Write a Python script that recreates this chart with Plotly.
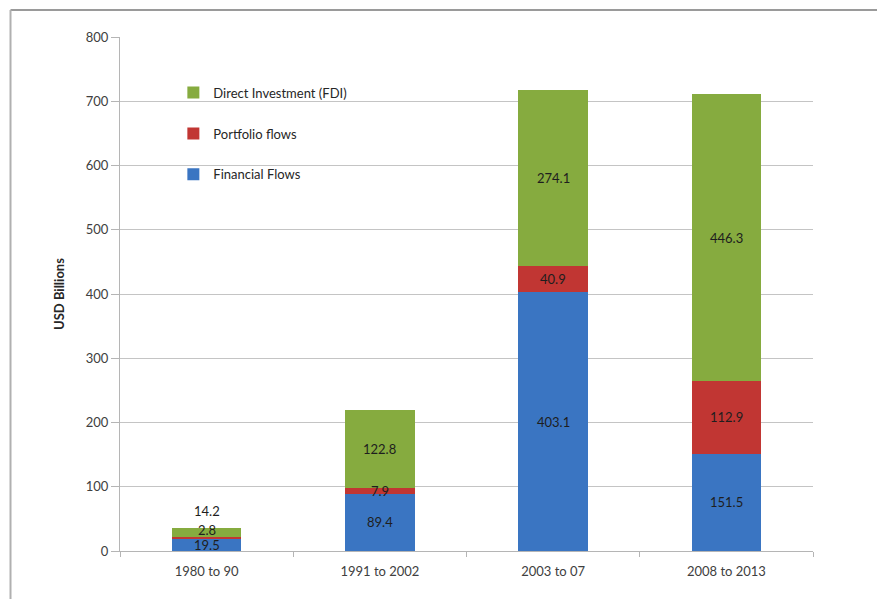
import plotly.graph_objects as go

categories = ["1980 to 90", "1991 to 2002", "2003 to 07", "2008 to 2013"]
financial = [19.5, 89.4, 403.1, 151.5]
portfolio = [2.8, 7.9, 40.9, 112.9]
fdi = [14.2, 122.8, 274.1, 446.3]
y_ticks = [0, 100, 200, 300, 400, 500, 600, 700, 800]

series = [
    ("Financial Flows", financial, "#3a75c2", 3),
    ("Portfolio flows", portfolio, "#c13633", 2),
    ("Direct Investment (FDI)", fdi, "#86ab3f", 1),
]

FONT = "Lato, 'Open Sans', sans-serif"
fig = go.Figure()
for name, vals, col, rank in series:
    fig.add_trace(go.Bar(
        x=categories, y=vals, name=name, width=0.4,
        marker=dict(color=col, line=dict(width=0)),
        legendgroup=name, legendrank=rank,
    ))

# data labels (positions derived from stacked values)
annotations = []
base = [0.0] * len(categories)
for si, (name, vals, col, rank) in enumerate(series):
    for ci, v in enumerate(vals):
        yc = base[ci] + v / 2
        shift = 0
        if ci == 0 and si == 1:
            shift = 8
        if ci == 0 and si == 2:
            yc = base[ci] + v
            shift = 17
        annotations.append(dict(
            x=categories[ci], y=yc, text=f"{v:.1f}", showarrow=False,
            yshift=shift, font=dict(family=FONT, size=13, color="#1e1e1e"),
            xref="x", yref="y",
        ))
        base[ci] += v

fig.update_layout(
    width=877, height=599,
    margin=dict(l=120, r=64, t=37, b=48),
    paper_bgcolor="white", plot_bgcolor="white",
    barmode="stack",
    font=dict(family=FONT, size=13, color="#404040"),
    showlegend=True,
    legend=dict(
        x=0.077, y=0.921, xanchor="left", yanchor="top",
        traceorder="grouped", tracegroupgap=21,
        font=dict(family=FONT, size=13, color="#262626"),
        bgcolor="rgba(0,0,0,0)",
    ),
    annotations=annotations,
    shapes=[
        dict(type="line", xref="paper", yref="paper",
             x0=-0.158, x1=1.2, y0=1.0525, y1=1.0525,
             line=dict(color="#9a9a9a", width=2)),
        dict(type="line", xref="paper", yref="paper",
             x0=-0.158, x1=-0.158, y0=1.0525, y1=-0.2,
             line=dict(color="#b0b0b0", width=2)),
    ],
)
fig.update_xaxes(
    type="category", showgrid=False,
    showline=True, linecolor="#b5b5b5", linewidth=1,
    ticks="outside", tickson="boundaries", ticklen=5, tickcolor="#b5b5b5",
    ticklabelstandoff=8,
    tickfont=dict(family=FONT, size=13, color="#404040"),
)
fig.update_yaxes(
    range=[0, 800], tickvals=y_ticks,
    showgrid=True, gridcolor="#c4c4c4", gridwidth=1,
    showline=True, linecolor="#b5b5b5", linewidth=1,
    ticks="outside", ticklen=8, tickcolor="#b5b5b5",
    tickfont=dict(family=FONT, size=13, color="#404040"),
    zeroline=False,
    title=dict(text="<b>USD Billions</b>", standoff=18,
               font=dict(family=FONT, size=13, color="#262626")),
)
fig.write_html("out.html")
